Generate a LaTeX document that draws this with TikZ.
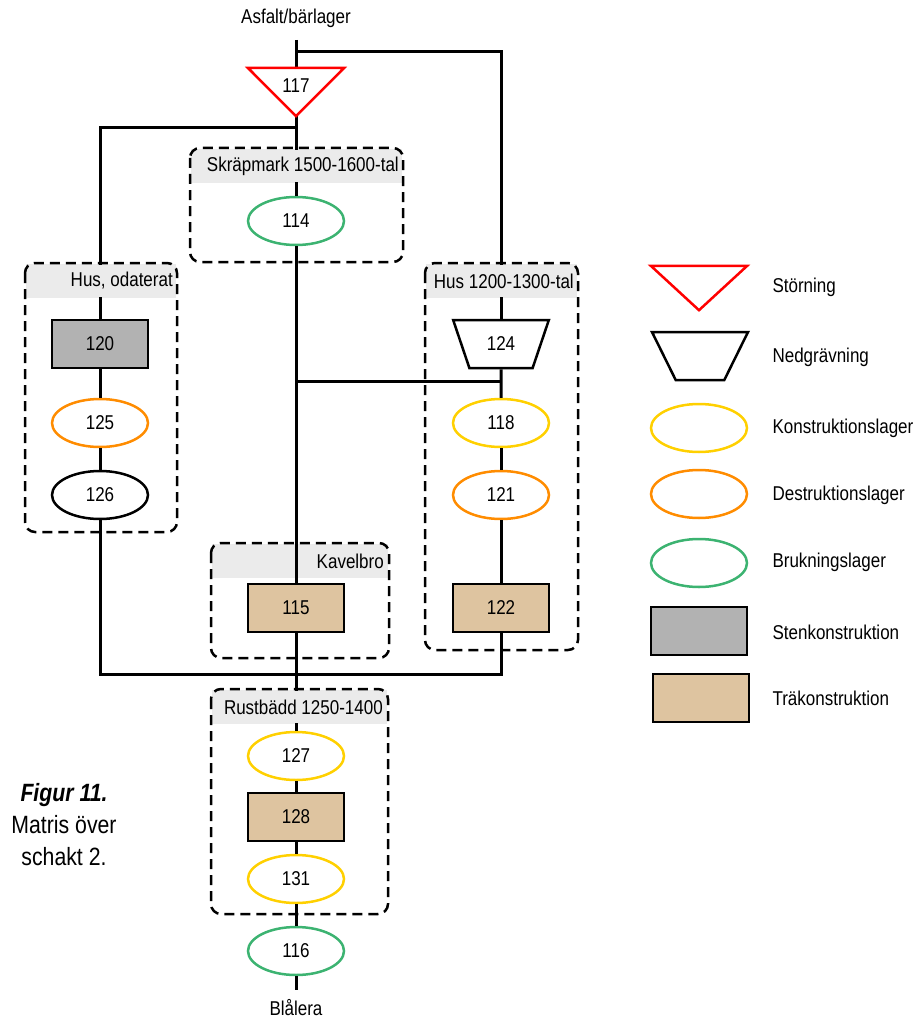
\documentclass[tikz,border=0pt]{standalone}
\usepackage{fontspec}
\setmainfont{Liberation Sans}[FakeStretch=0.85]
\usetikzlibrary{shapes.geometric}
\definecolor{cyel}{RGB}{255,208,0}
\definecolor{corg}{RGB}{255,140,0}
\definecolor{cgrn}{RGB}{60,179,113}
\definecolor{cgry}{RGB}{178,178,178}
\definecolor{ctan}{RGB}{222,196,160}
\definecolor{chdr}{RGB}{235,235,235}
\begin{document}
\begin{tikzpicture}[x=1pt,y=-1pt,font=\fontsize{20}{24}\selectfont,
  lw/.style={line width=2.5pt},
  wire/.style={line width=3pt},
  ell/.style={ellipse,draw,lw,fill=white,minimum width=96pt,minimum height=48pt,inner sep=0pt},
  yel/.style={ell,draw=cyel},
  org/.style={ell,draw=corg},
  grn/.style={ell,draw=cgrn},
  blk/.style={ell,draw=black},
  boxn/.style={rectangle,draw=black,lw,minimum width=96pt,minimum height=48pt,inner sep=0pt},
  stone/.style={boxn,fill=cgry},
  wood/.style={boxn,fill=ctan},
  trapn/.style={trapezium,trapezium stretches=true,shape border rotate=180,draw=black,lw,fill=white,
    minimum width=96pt,minimum height=48pt,trapezium left angle=64,trapezium right angle=64,inner sep=1pt},
  trif/.style={rectangle,draw=none,minimum width=96pt,minimum height=48pt,inner sep=0pt},
  redtri/.style={draw=red,lw,line join=miter},
  grpbox/.style={draw=black,lw,dash pattern=on 10pt off 6pt,rounded corners=10pt},
  hdrfill/.style={fill=chdr},
  hdrtxt/.style={anchor=east,fill=chdr,inner sep=1pt,minimum height=32pt},
  lgtxt/.style={anchor=west}]
\useasboundingbox (0,0) rectangle (916,1019);

% ---------- group headers (background) ----------
\fill[hdrfill] (26,264) rectangle (176,298);
\fill[hdrfill] (191,149) rectangle (402,183);
\fill[hdrfill] (426,264) rectangle (577,298);
\fill[hdrfill] (212,544) rectangle (388,578);
\fill[hdrfill] (212,690) rectangle (387,724);

% ---------- nodes ----------
\node (asf) at (296,18) {Asfalt/bärlager};
\node (bla) at (296,1008) {Blålera};
\coordinate (top) at (296,40);
\coordinate (j1) at (296,52);
\coordinate (j2) at (296,128);
\coordinate (j3) at (296,381);
\coordinate (j3r) at (501,381);
\coordinate (j4) at (501,674);
\coordinate (bot) at (296,990);

\node[trif] (n117) at (296,92) {};
\node[grn] (n114) at (296,221) {114};
\node[stone] (n120) at (100,344) {120};
\node[org] (n125) at (100,423) {125};
\node[blk] (n126) at (100,495) {126};
\node[trapn] (n124) at (501,344) {124};
\node[yel] (n118) at (501,423) {118};
\node[org] (n121) at (501,495) {121};
\node[wood] (n122) at (501,608) {122};
\node[wood] (n115) at (296,608) {115};
\node[yel] (n127) at (296,756) {127};
\node[wood] (n128) at (296,817) {128};
\node[yel] (n131) at (296,879) {131};
\node[grn] (n116) at (296,951) {116};

% ---------- connectors ----------
\draw[wire] (top) -- (n117.north);
\draw[wire] (j1) -| (n124.north);
\draw[wire] (n117.south) -- (n114.north);
\draw[wire] (j2) -| (n120.north);
\draw[wire] (n114.south) -- (n115.north);
\draw[wire] (j3) -- (j3r);
\draw[wire] (n124.south) -- (n118.north);
\draw[wire] (n118.south) -- (n121.north);
\draw[wire] (n121.south) -- (n122.north);
\draw[wire] (n120.south) -- (n125.north);
\draw[wire] (n125.south) -- (n126.north);
\draw[wire] (n126.south) |- (j4) -- (n122.south);
\draw[wire] (n115.south) -- (n127.north);
\draw[wire] (n127.south) -- (n128.north);
\draw[wire] (n128.south) -- (n131.north);
\draw[wire] (n131.south) -- (n116.north);
\draw[wire] (n116.south) -- (bot);

% triangle 117 on top of connectors
\draw[redtri,fill=white] (n117.north west) -- (n117.north east) -- (n117.south) -- cycle;
\node (l117) at (296,86) {117};

% ---------- group titles and frames ----------
\node[hdrtxt] (h1) at (174,281) {Hus, odaterat};
\node[hdrtxt] (h2) at (400,166) {Skräpmark 1500-1600-tal};
\node[hdrtxt] (h3) at (575,281) {Hus 1200-1300-tal};
\node[hdrtxt] (h4) at (385,561) {Kavelbro};
\node[hdrtxt] (h5) at (384,707) {Rustbädd 1250-1400};
\draw[grpbox] (25,263) rectangle (177,532);
\draw[grpbox] (190,148) rectangle (403,262);
\draw[grpbox] (425,263) rectangle (578,650);
\draw[grpbox] (211,543) rectangle (389,658);
\draw[grpbox] (211,689) rectangle (388,914);

% ---------- caption ----------
\node[align=center,font=\fontsize{25}{32}\selectfont] (cap) at (64,825)
  {\textbf{\textit{Figur 11.}}\\Matris över\\schakt 2.};

% ---------- legend ----------
\node[trif,minimum height=44pt] (lg1) at (699,288) {};
\draw[redtri] (lg1.north west) -- (lg1.north east) -- (lg1.south) -- cycle;
\node[lgtxt] (lt1) at (769,287) {Störning};
\node[trapn] (lg2) at (700,356) {};
\node[lgtxt] (lt2) at (769,357) {Nedgrävning};
\node[yel] (lg3) at (699,428) {};
\node[lgtxt] (lt3) at (769,428) {Konstruktionslager};
\node[org] (lg4) at (699,494) {};
\node[lgtxt] (lt4) at (769,495) {Destruktionslager};
\node[grn] (lg5) at (699,563) {};
\node[lgtxt] (lt5) at (769,562) {Brukningslager};
\node[stone] (lg6) at (699,631) {};
\node[lgtxt] (lt6) at (769,632) {Stenkonstruktion};
\node[wood] (lg7) at (701,698) {};
\node[lgtxt] (lt7) at (769,698) {Träkonstruktion};
\end{tikzpicture}
\end{document}
